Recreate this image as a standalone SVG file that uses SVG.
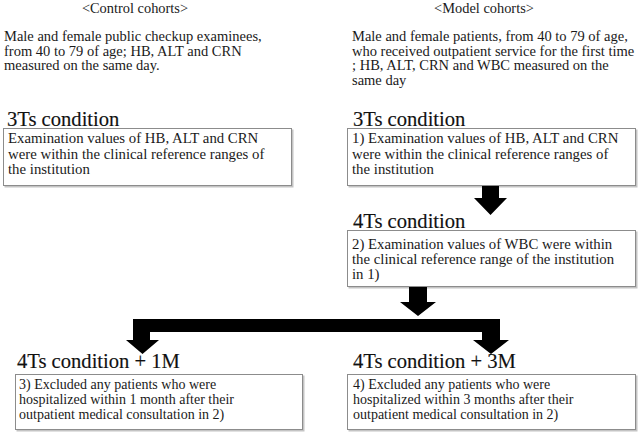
<svg xmlns="http://www.w3.org/2000/svg" width="642" height="437" viewBox="0 0 642 437">
<defs>
<style>
text{font-family:"Liberation Serif","Times New Roman",serif;fill:#1a1a1a;}
.hd{font-size:14.4px;text-anchor:middle;}
.pa{font-size:14.5px;}
.ti{font-size:20.6px;fill:#111;stroke:#111;stroke-width:0.15px;}
.bt{font-size:14.8px;}
.bs{font-size:14px;}
.box{fill:#fff;stroke:#8c8c8c;stroke-width:1;}
.sh{fill:#c4c4c4;}
.ar{fill:#000;}
</style>
</defs>
<rect width="642" height="437" fill="#fff"/>
<g id="control-header">
<text class="hd" x="135" y="13">&lt;Control cohorts&gt;</text>
<text class="pa" x="4" y="41">Male and female public checkup examinees,</text>
<text class="pa" x="4" y="55.5">from 40 to 79 of age; HB, ALT and CRN</text>
<text class="pa" x="4" y="70">measured on the same day.</text>
</g>
<g id="model-header">
<text class="hd" x="484" y="13">&lt;Model cohorts&gt;</text>
<text class="pa" x="352" y="41">Male and female patients, from 40 to 79 of age,</text>
<text class="pa" x="352" y="55.5">who received outpatient service for the first time</text>
<text class="pa" x="352" y="70">; HB, ALT, CRN and WBC measured on the</text>
<text class="pa" x="352" y="84.5">same day</text>
</g>
<g id="control-3ts">
<text class="ti" x="7" y="126">3Ts condition</text>
<rect class="sh" x="4.5" y="129.5" width="289" height="58"/>
<rect class="box" x="3.5" y="128.5" width="288" height="57"/>
<text class="bt" x="8" y="143">Examination values of HB, ALT and CRN</text>
<text class="bt" x="8" y="158.5">were within the clinical reference ranges of</text>
<text class="bt" x="8" y="174">the institution</text>
</g>
<g id="model-3ts">
<text class="ti" x="353" y="126">3Ts condition</text>
<rect class="sh" x="348.5" y="129.5" width="289" height="58"/>
<rect class="box" x="347.5" y="128.5" width="288" height="57"/>
<text class="bt" x="352" y="143">1) Examination values of HB, ALT and CRN</text>
<text class="bt" x="352" y="158.5">were within the clinical reference ranges of</text>
<text class="bt" x="352" y="174">the institution</text>
</g>
<g id="model-4ts">
<text class="ti" x="353" y="228">4Ts condition</text>
<rect class="sh" x="348.5" y="231.5" width="289" height="57"/>
<rect class="box" x="347.5" y="230.5" width="288" height="56"/>
<text class="bt" x="352" y="249">2) Examination values of WBC were within</text>
<text class="bt" x="352" y="264">the clinical reference range of the institution</text>
<text class="bt" x="352" y="279">in 1)</text>
</g>
<g id="model-4ts-1m">
<text class="ti" x="17" y="368">4Ts condition + 1M</text>
<rect class="sh" x="16.5" y="375.5" width="288" height="56"/>
<rect class="box" x="15.5" y="374.5" width="287" height="55"/>
<text class="bs" x="19" y="389">3) Excluded any patients who were</text>
<text class="bs" x="19" y="404">hospitalized within 1 month after their</text>
<text class="bs" x="19" y="419">outpatient medical consultation in 2)</text>
</g>
<g id="model-4ts-3m">
<text class="ti" x="353" y="368">4Ts condition + 3M</text>
<rect class="sh" x="348.5" y="375.5" width="289" height="56"/>
<rect class="box" x="347.5" y="374.5" width="288" height="55"/>
<text class="bs" x="353" y="389">4) Excluded any patients who were</text>
<text class="bs" x="353" y="404">hospitalized within 3 months after their</text>
<text class="bs" x="353" y="419">outpatient medical consultation in 2)</text>
</g>
<g id="connectors">
<polygon class="ar" points="482,186 499,186 499,198 507,198 490.5,215 474,198 482,198"/>
<polygon class="ar" points="409,287 427,287 427,302 436,302 418,316 400,302 409,302"/>
<polygon class="ar" points="133,319 500,319 500,340 509,340 491,354 473,340 482,340 482,332 150,332 150,340 159,340 142.5,354 126,340 133,340"/>
</g>
</svg>
